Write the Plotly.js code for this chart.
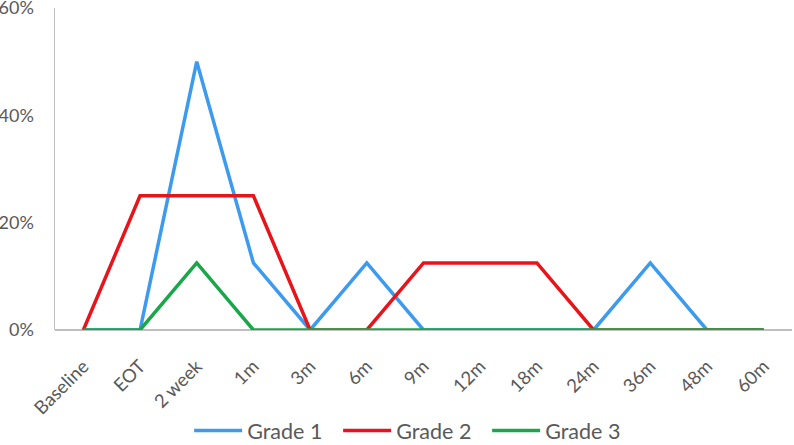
<!DOCTYPE html>
<html>
<head>
<meta charset="utf-8">
<script src="https://cdn.plot.ly/plotly-3.0.1.min.js"></script>
<style>
  html, body { margin: 0; padding: 0; background: #fff; overflow: hidden; }
  #chart { width: 794px; height: 460px; }
</style>
</head>
<body>
<div id="chart"></div>
<script>
const timepoints = ["Baseline", "EOT", "2 week", "1m", "3m", "6m", "9m", "12m", "18m", "24m", "36m", "48m", "60m"];
const grade1 = [0, 0, 0.5, 0.125, 0, 0.125, 0, 0, 0, 0, 0.125, 0, 0];
const grade2 = [0, 0.25, 0.25, 0.25, 0, 0, 0.125, 0.125, 0.125, 0, 0, 0, 0];
const grade3 = [0, 0, 0.125, 0, 0, 0, 0, 0, 0, 0, 0, 0, 0];

function makeTrace(name, values, color) {
    return {
        x: timepoints,
        y: values,
        name: name,
        type: "scatter",
        mode: "lines",
        line: { color: color, width: 3.5 },
        hoverinfo: "skip"
    };
}

const traces = [
    makeTrace("Grade 1", grade1, "#3d9bef"),
    makeTrace("Grade 2", grade2, "#e8141a"),
    makeTrace("Grade 3", grade3, "#1aa64a")
];

// chart is a bit taller than the window so the legend can sit low, near the bottom edge
const layout = {
    width: 794,
    height: 460,
    margin: { l: 55, r: 2, t: 8, b: 130 },
    paper_bgcolor: "#fff",
    plot_bgcolor: "#fff",
    font: { family: "Lato, 'Open Sans', sans-serif", color: "#595959", size: 16 },
    showlegend: true,
    legend: {
        orientation: "h",
        x: 0.182,
        xanchor: "left",
        y: -0.312,
        yanchor: "middle",
        itemwidth: 48,
        entrywidth: 86,
        entrywidthmode: "pixels",
        font: { size: 21.5, color: "#595959" },
        traceorder: "normal"
    },
    xaxis: {
        type: "category",
        range: [-0.5, 12.5],
        showgrid: false,
        zeroline: false,
        showline: false,
        ticks: "",
        tickangle: -45,
        ticklabelstandoff: 21,
        tickfont: { size: 18.5 },
        automargin: false,
        fixedrange: true
    },
    yaxis: {
        range: [0, 0.6],
        tickvals: [0, 0.2, 0.4, 0.6],
        tickformat: ".0%",
        showgrid: false,
        zeroline: true,
        zerolinecolor: "#bfbfbf",
        zerolinewidth: 1.5,
        showline: true,
        linecolor: "#bfbfbf",
        linewidth: 1.5,
        ticks: "",
        ticklabelstandoff: 16,
        ticklabeloverflow: "allow",
        tickfont: { size: 18 },
        automargin: false,
        fixedrange: true
    }
};

Plotly.newPlot("chart", traces, layout, { staticPlot: true });
</script>
</body>
</html>
